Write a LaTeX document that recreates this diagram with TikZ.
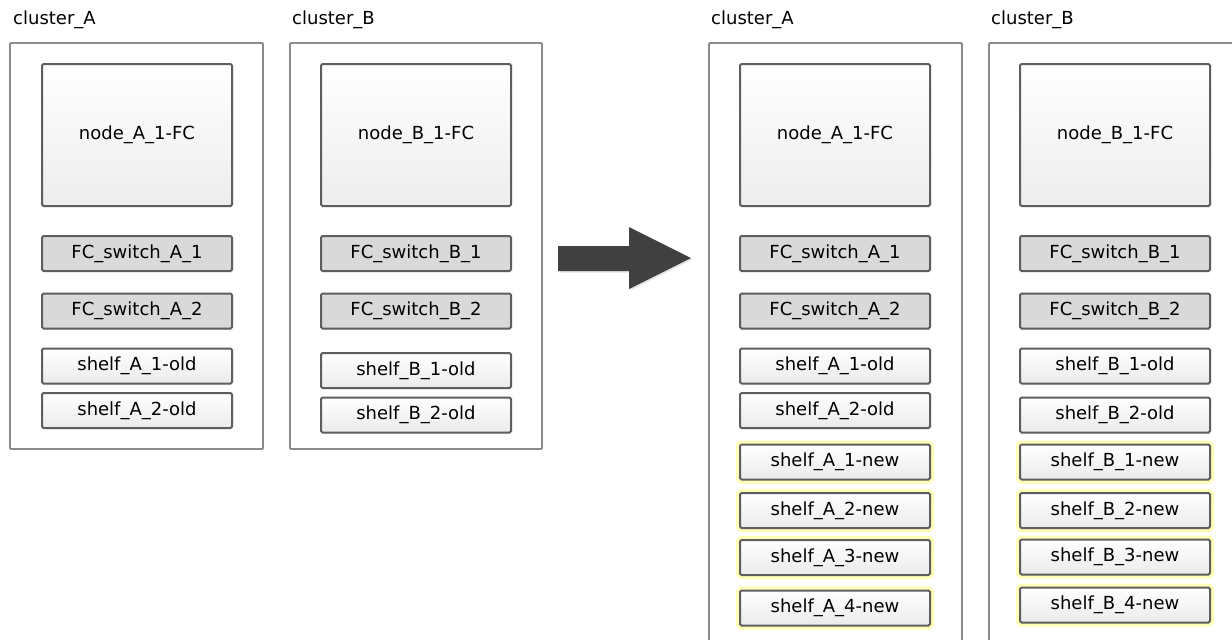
\documentclass[tikz,border=0pt]{standalone}
\usepackage{fontspec}
\setmainfont{DejaVu Sans}
\usetikzlibrary{shadows}
\definecolor{framegray}{HTML}{8C8C8C}
\definecolor{boxgray}{HTML}{5E5E5E}
\definecolor{switchfill}{HTML}{D9D9D9}
\definecolor{glowyellow}{HTML}{FFFFB8}
\definecolor{arrowgray}{HTML}{404040}
\tikzset{
	clusterframe/.style={draw=framegray, line width=1.8pt, rounded corners=1pt, inner sep=0pt},
	partbox/.style={draw=boxgray, line width=2pt, rounded corners=1.5pt, minimum width=190pt, minimum height=35pt, inner sep=0pt, font=\fontsize{18}{20}\selectfont, drop shadow={shadow xshift=1pt, shadow yshift=-1pt, opacity=0.2}},
	hostbox/.style={partbox, minimum height=142pt, top color=white, bottom color=black!7},
	switchbox/.style={partbox, fill=switchfill},
	shelfbox/.style={partbox, top color=white, bottom color=black!8},
	newshelf/.style={shelfbox, preaction={draw=glowyellow, line width=8pt}},
	clusterlabel/.style={anchor=west, inner sep=0pt, font=\fontsize{18}{20}\selectfont},
}

\begin{document}
\begin{tikzpicture}[x=1pt, y=-1pt]
			%%%%% START %%%%%
			\useasboundingbox[fill=white] (0, 0) rectangle (1232, 640);
			\clip (0, 0) rectangle (1232, 640);
			
			% before
			\node[clusterlabel] (labelAold) at (13, 20) {cluster\_A};
			\node[clusterlabel] (labelBold) at (292, 20) {cluster\_B};
			\node[clusterframe, minimum width=253pt, minimum height=406pt] (frameAold) at (136.5, 246) {};
			\node[clusterframe, minimum width=252pt, minimum height=406pt] (frameBold) at (416, 246) {};
			
			\node[hostbox] (nodeAold) at (137, 135) {node\_A\_1-FC};
			\node[switchbox] (switchAoneold) at (137, 253.5) {FC\_switch\_A\_1};
			\node[switchbox] (switchAtwoold) at (137, 311) {FC\_switch\_A\_2};
			\node[shelfbox] (shelfAoneold) at (137, 366) {shelf\_A\_1-old};
			\node[shelfbox] (shelfAtwoold) at (137, 410.5) {shelf\_A\_2-old};
			
			\node[hostbox] (nodeBold) at (416, 135) {node\_B\_1-FC};
			\node[switchbox] (switchBoneold) at (416, 253.5) {FC\_switch\_B\_1};
			\node[switchbox] (switchBtwoold) at (416, 311) {FC\_switch\_B\_2};
			\node[shelfbox] (shelfBoneold) at (416, 370.5) {shelf\_B\_1-old};
			\node[shelfbox] (shelfBtwoold) at (416, 415) {shelf\_B\_2-old};
			
			% arrow
			\fill[arrowgray, drop shadow={shadow xshift=1.5pt, shadow yshift=-1.5pt, opacity=0.2}]
				(558, 246) -- (629, 246) -- (629, 227) -- (691, 258) -- (629, 289) -- (629, 271) -- (558, 271) -- cycle;
			
			% after
			\node[clusterlabel] (labelAnew) at (711, 20) {cluster\_A};
			\node[clusterlabel] (labelBnew) at (991, 20) {cluster\_B};
			\node[clusterframe, minimum width=253pt, minimum height=660pt] (frameAnew) at (835.5, 373) {};
			\node[clusterframe, minimum width=253pt, minimum height=660pt] (frameBnew) at (1115.5, 373) {};
			
			\node[hostbox] (nodeAnew) at (835, 135) {node\_A\_1-FC};
			\node[switchbox] (switchAonenew) at (835, 253.5) {FC\_switch\_A\_1};
			\node[switchbox] (switchAtwonew) at (835, 311) {FC\_switch\_A\_2};
			\node[shelfbox] (shelfAoneold2) at (835, 366) {shelf\_A\_1-old};
			\node[shelfbox] (shelfAtwoold2) at (835, 410.5) {shelf\_A\_2-old};
			\node[newshelf] (shelfAonenew) at (835, 462) {shelf\_A\_1-new};
			\node[newshelf] (shelfAtwonew) at (835, 510.5) {shelf\_A\_2-new};
			\node[newshelf] (shelfAthreenew) at (835, 557.5) {shelf\_A\_3-new};
			\node[newshelf] (shelfAfournew) at (835, 608) {shelf\_A\_4-new};
			
			\node[hostbox] (nodeBnew) at (1115, 135) {node\_B\_1-FC};
			\node[switchbox] (switchBonenew) at (1115, 253.5) {FC\_switch\_B\_1};
			\node[switchbox] (switchBtwonew) at (1115, 311) {FC\_switch\_B\_2};
			\node[shelfbox] (shelfBoneold2) at (1115, 366) {shelf\_B\_1-old};
			\node[shelfbox] (shelfBtwoold2) at (1115, 415) {shelf\_B\_2-old};
			\node[newshelf] (shelfBonenew) at (1115, 462) {shelf\_B\_1-new};
			\node[newshelf] (shelfBtwonew) at (1115, 510.5) {shelf\_B\_2-new};
			\node[newshelf] (shelfBthreenew) at (1115, 557) {shelf\_B\_3-new};
			\node[newshelf] (shelfBfournew) at (1115, 605) {shelf\_B\_4-new};
			%%%%% END %%%%%
\end{tikzpicture}
\end{document}
